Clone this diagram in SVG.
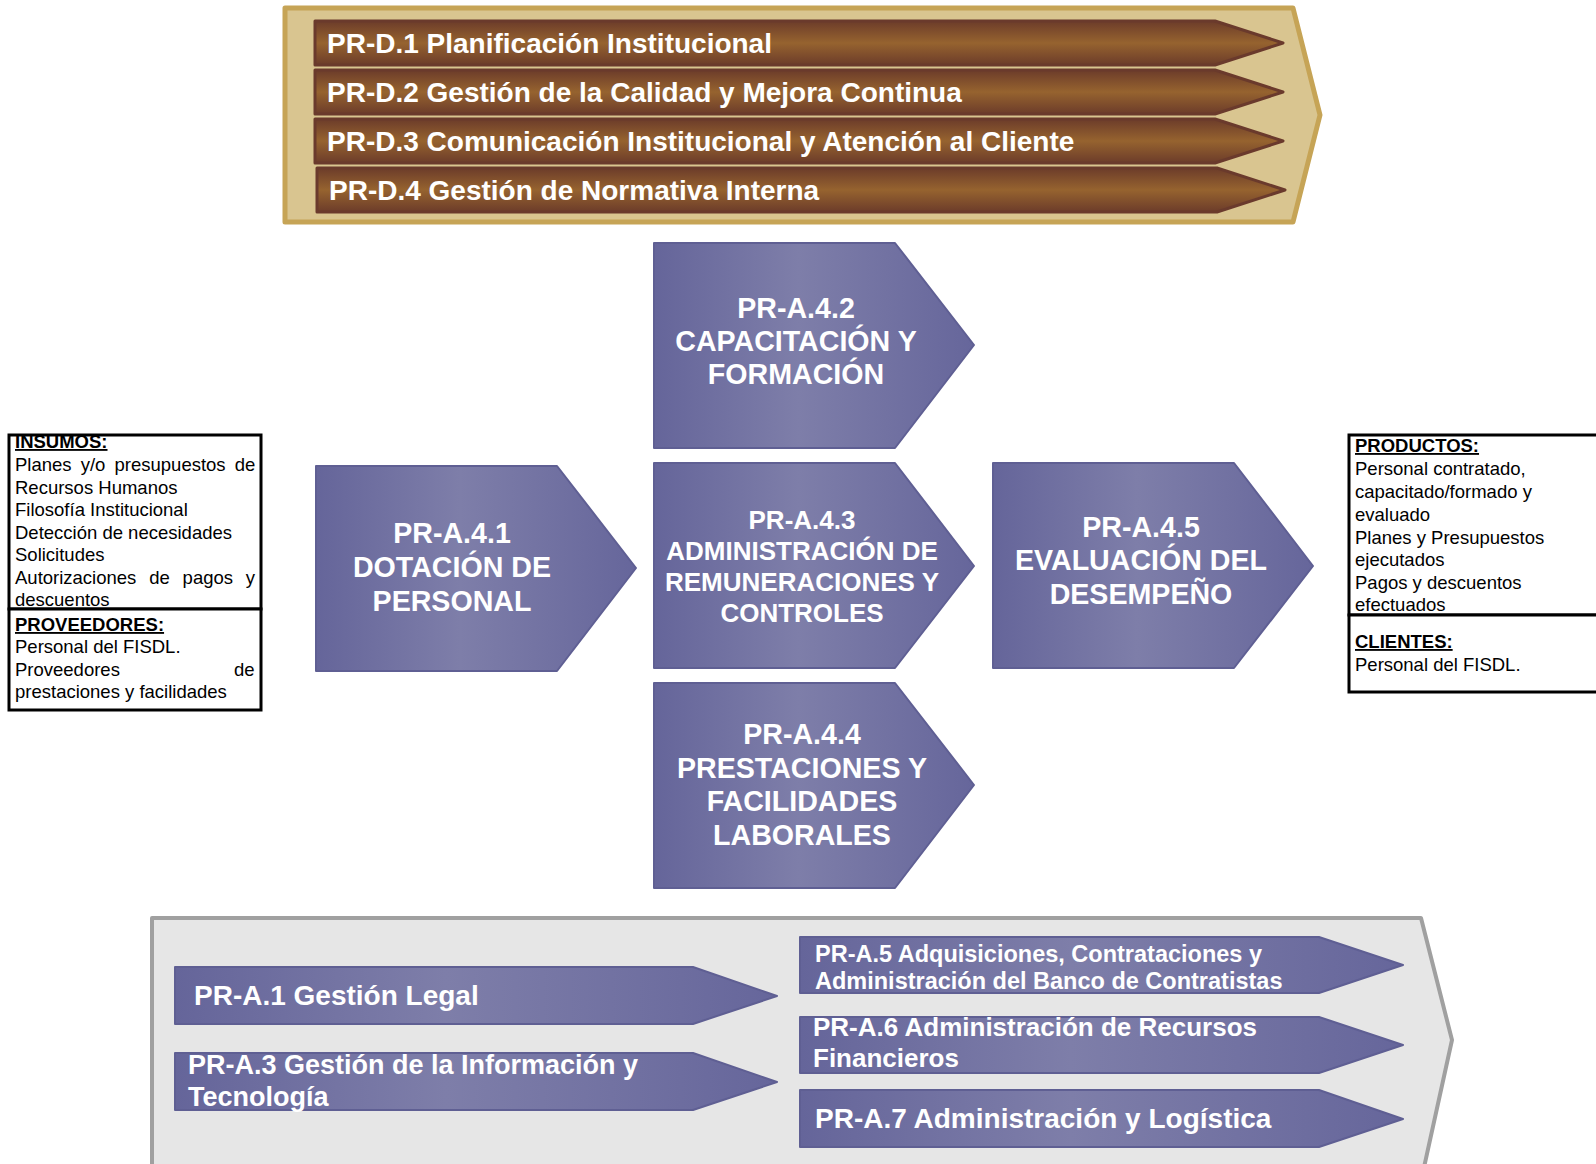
<svg xmlns="http://www.w3.org/2000/svg" width="1596" height="1164" viewBox="0 0 1596 1164">
<defs>
<linearGradient id="brown" x1="0" y1="0" x2="0" y2="1">
<stop offset="0" stop-color="#6C3C2A"/>
<stop offset="0.5" stop-color="#96632F"/>
<stop offset="1" stop-color="#6C3C2A"/>
</linearGradient>
<linearGradient id="purple" x1="0" y1="0" x2="1" y2="0">
<stop offset="0" stop-color="#65659A"/>
<stop offset="0.45" stop-color="#7E7EA9"/>
<stop offset="1" stop-color="#66669B"/>
</linearGradient>
<style>
.cont-top{fill:#D9C590;stroke:#C6A456;stroke-width:5;stroke-linejoin:round}
.cont-bot{fill:#E6E6E6;stroke:#A0A0A0;stroke-width:4;stroke-linejoin:round}
.bar{fill:url(#brown);stroke:#6A3A2C;stroke-width:3;stroke-linejoin:round}
.arr{fill:url(#purple);stroke:#5F5F93;stroke-width:2;stroke-linejoin:round}
.t{font-family:"Liberation Sans",Arial,sans-serif;font-weight:bold;fill:#FFFFFF}
.big{font-size:28px}
.ctr{font-size:28.6px}
.a3{font-size:27px}
.mid{font-size:26px}
.sm{font-size:23.5px}
.c{text-anchor:middle}
.box{fill:#FFFFFF;stroke:#000000;stroke-width:3}
.bt{font-family:"Liberation Sans",Arial,sans-serif;font-size:18.5px;fill:#000000}
.bh{font-weight:bold;text-decoration:underline}
</style>
</defs>
<rect width="1596" height="1164" fill="#FFFFFF"/>

<g id="direccion">
<path class="cont-top" d="M285,8 L1293,8 L1320,115 L1293,222 L285,222 Z"/>
<g id="pr-d1"><path class="bar" d="M315,21 L1215,21 L1283,43 L1215,65 L315,65 Z"/><text class="t big" x="327" y="53">PR-D.1 Planificación Institucional</text></g>
<g id="pr-d2"><path class="bar" d="M315,70 L1215,70 L1283,92 L1215,114 L315,114 Z"/><text class="t big" x="327" y="102">PR-D.2 Gestión de la Calidad y Mejora Continua</text></g>
<g id="pr-d3"><path class="bar" d="M315,119 L1215,119 L1283,141 L1215,163 L315,163 Z"/><text class="t big" x="327" y="151">PR-D.3 Comunicación Institucional y Atención al Cliente</text></g>
<g id="pr-d4"><path class="bar" d="M317,168 L1217,168 L1285,190 L1217,212 L317,212 Z"/><text class="t big" x="329" y="200">PR-D.4 Gestión de Normativa Interna</text></g>
</g>

<g id="pr-a41"><path class="arr" d="M316,466 L557,466 L636,568 L557,671 L316,671 Z"/>
<text class="t ctr c" x="452" y="543">PR-A.4.1</text>
<text class="t ctr c" x="452" y="577">DOTACIÓN DE</text>
<text class="t ctr c" x="452" y="611">PERSONAL</text></g>

<g id="pr-a42"><path class="arr" d="M654,243 L895,243 L974,345 L895,448 L654,448 Z"/>
<text class="t ctr c" x="796" y="318">PR-A.4.2</text>
<text class="t ctr c" x="796" y="351">CAPACITACIÓN Y</text>
<text class="t ctr c" x="796" y="384">FORMACIÓN</text></g>

<g id="pr-a43"><path class="arr" d="M654,463 L895,463 L974,566 L895,668 L654,668 Z"/>
<text class="t mid c" x="802" y="529">PR-A.4.3</text>
<text class="t mid c" x="802" y="560">ADMINISTRACIÓN DE</text>
<text class="t mid c" x="802" y="591">REMUNERACIONES Y</text>
<text class="t mid c" x="802" y="622">CONTROLES</text></g>

<g id="pr-a44"><path class="arr" d="M654,683 L895,683 L974,785 L895,888 L654,888 Z"/>
<text class="t ctr c" x="802" y="744">PR-A.4.4</text>
<text class="t ctr c" x="802" y="778">PRESTACIONES Y</text>
<text class="t ctr c" x="802" y="811">FACILIDADES</text>
<text class="t ctr c" x="802" y="845">LABORALES</text></g>

<g id="pr-a45"><path class="arr" d="M993,463 L1234,463 L1313,566 L1234,668 L993,668 Z"/>
<text class="t ctr c" x="1141" y="537">PR-A.4.5</text>
<text class="t ctr c" x="1141" y="570">EVALUACIÓN DEL</text>
<text class="t ctr c" x="1141" y="604">DESEMPEÑO</text></g>

<g id="insumos">
<rect x="9" y="435" width="252" height="174" fill="#FFFFFF"/>
<text class="bt bh" x="15" y="448">INSUMOS:</text>
<text class="bt" x="15" y="471" word-spacing="4">Planes y/o presupuestos de</text>
<text class="bt" x="15" y="494">Recursos Humanos</text>
<text class="bt" x="15" y="516">Filosofía Institucional</text>
<text class="bt" x="15" y="539">Detección de necesidades</text>
<text class="bt" x="15" y="561">Solicitudes</text>
<text class="bt" x="15" y="584" word-spacing="7.7">Autorizaciones de pagos y</text>
<text class="bt" x="15" y="606">descuentos</text>
<rect class="box" x="9" y="435" width="252" height="174" style="fill:none"/>
</g>
<g id="proveedores">
<rect class="box" x="9" y="609" width="252" height="101"/>
<text class="bt bh" x="15" y="631">PROVEEDORES:</text>
<text class="bt" x="15" y="653">Personal del FISDL.</text>
<text class="bt" x="15" y="676" word-spacing="109">Proveedores de</text>
<text class="bt" x="15" y="698">prestaciones y facilidades</text>
</g>

<g id="productos">
<rect class="box" x="1349" y="435" width="260" height="180"/>
<text class="bt bh" x="1355" y="452">PRODUCTOS:</text>
<text class="bt" x="1355" y="475">Personal contratado,</text>
<text class="bt" x="1355" y="498">capacitado/formado y</text>
<text class="bt" x="1355" y="521">evaluado</text>
<text class="bt" x="1355" y="544">Planes y Presupuestos</text>
<text class="bt" x="1355" y="566">ejecutados</text>
<text class="bt" x="1355" y="589">Pagos y descuentos</text>
<text class="bt" x="1355" y="611">efectuados</text>
</g>
<g id="clientes">
<rect class="box" x="1349" y="615" width="260" height="77"/>
<text class="bt bh" x="1355" y="648">CLIENTES:</text>
<text class="bt" x="1355" y="671">Personal del FISDL.</text>
</g>

<g id="apoyo">
<path class="cont-bot" d="M152,1172 L152,918 L1421,918 L1452,1040 L1423,1172"/>
<g id="pr-a1"><path class="arr" d="M175,967 L693,967 L777,996 L693,1024 L175,1024 Z"/><text class="t big" x="194" y="1005">PR-A.1 Gestión Legal</text></g>
<g id="pr-a3"><path class="arr" d="M175,1053 L693,1053 L777,1082 L693,1110 L175,1110 Z"/><text class="t a3" x="188" y="1074">PR-A.3 Gestión de la Información y</text><text class="t a3" x="188" y="1106">Tecnología</text></g>
<g id="pr-a5"><path class="arr" d="M800,937 L1319,937 L1403,965 L1319,993 L800,993 Z"/><text class="t sm" x="815" y="962">PR-A.5 Adquisiciones, Contrataciones y</text><text class="t sm" x="815" y="989">Administración del Banco de Contratistas</text></g>
<g id="pr-a6"><path class="arr" d="M800,1017 L1319,1017 L1403,1045 L1319,1073 L800,1073 Z"/><text class="t mid" x="813" y="1036">PR-A.6 Administración de Recursos</text><text class="t mid" x="813" y="1067">Financieros</text></g>
<g id="pr-a7"><path class="arr" d="M800,1090 L1319,1090 L1403,1119 L1319,1147 L800,1147 Z"/><text class="t big" x="815" y="1128">PR-A.7 Administración y Logística</text></g>
</g>

<g id="connectors"/>
</svg>
